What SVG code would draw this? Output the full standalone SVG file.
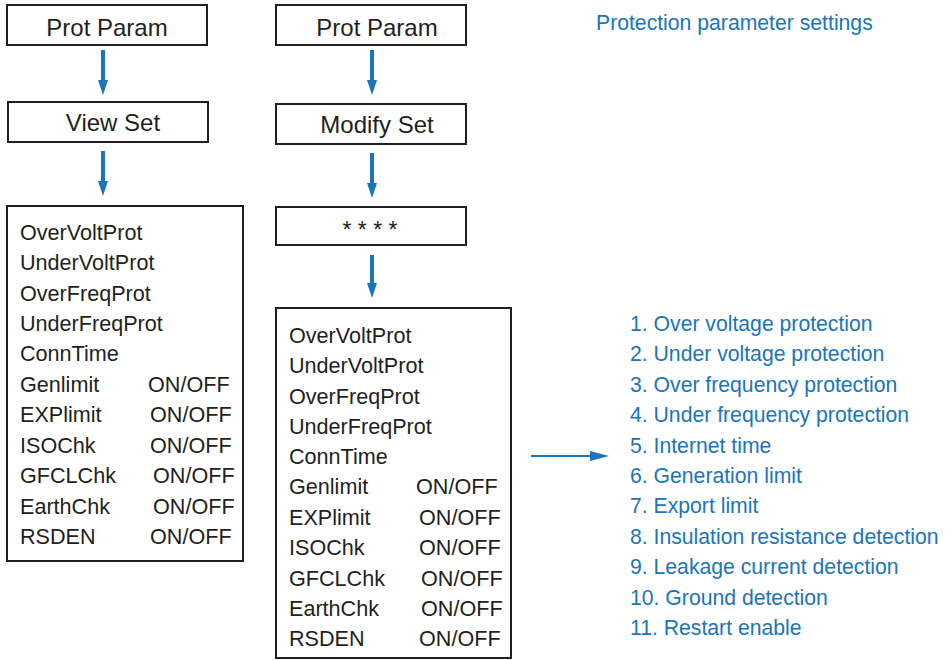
<svg xmlns="http://www.w3.org/2000/svg" width="952" height="660" viewBox="0 0 952 660">
<style>
.box{fill:#fff;stroke:#231f20;stroke-width:2}
.t{font-family:"Liberation Sans",Arial,sans-serif;fill:#231f20}
.h{font-size:24px;text-anchor:middle}
.l{font-size:21.6px}
.b{font-family:"Liberation Sans",Arial,sans-serif;fill:#1b75bb;font-size:21.2px}
.c{stroke:#1b75bb;stroke-width:4;fill:none}
.ch{fill:#1b75bb}
</style>
<rect width="952" height="660" fill="#fff"/>
<g id="connectors">
<line class="c" x1="103" y1="50" x2="103" y2="82"/><polygon class="ch" points="98,80 108,80 103,95"/>
<line class="c" x1="103" y1="151" x2="103" y2="183"/><polygon class="ch" points="98,181 108,181 103,196"/>
<line class="c" x1="372" y1="50" x2="372" y2="82"/><polygon class="ch" points="367,80 377,80 372,95"/>
<line class="c" x1="372" y1="153" x2="372" y2="185"/><polygon class="ch" points="367,183 377,183 372,198"/>
<line class="c" x1="372" y1="255" x2="372" y2="285"/><polygon class="ch" points="367,283 377,283 372,298"/>
<line stroke="#1b75bb" stroke-width="2" x1="531" y1="456" x2="592" y2="456"/><polygon class="ch" points="590,451 590,461 609,456"/>
</g>
<g id="prot-param-1"><rect class="box" x="7" y="5" width="200" height="40"/><text class="t h" x="107" y="36">Prot Param</text></g>
<g id="view-set"><rect class="box" x="8" y="102" width="200" height="40"/><text class="t h" x="113" y="131">View Set</text></g>
<g id="view-list"><rect class="box" x="7" y="206" width="236" height="355"/>
<text class="t l" x="20" y="240">OverVoltProt</text>
<text class="t l" x="20" y="270">UnderVoltProt</text>
<text class="t l" x="20" y="301">OverFreqProt</text>
<text class="t l" x="20" y="331">UnderFreqProt</text>
<text class="t l" x="20" y="361">ConnTime</text>
<text class="t l" x="20" y="392">Genlimit</text><text class="t l" x="148" y="392">ON/OFF</text>
<text class="t l" x="20" y="422">EXPlimit</text><text class="t l" x="150" y="422">ON/OFF</text>
<text class="t l" x="20" y="453">ISOChk</text><text class="t l" x="150" y="453">ON/OFF</text>
<text class="t l" x="20" y="483">GFCLChk</text><text class="t l" x="153" y="483">ON/OFF</text>
<text class="t l" x="20" y="514">EarthChk</text><text class="t l" x="153" y="514">ON/OFF</text>
<text class="t l" x="20" y="544">RSDEN</text><text class="t l" x="150" y="544">ON/OFF</text>
</g>
<g id="prot-param-2"><rect class="box" x="276" y="5" width="190" height="40"/><text class="t h" x="377" y="36">Prot Param</text></g>
<g id="modify-set"><rect class="box" x="276" y="104" width="190" height="40"/><text class="t h" x="377" y="133">Modify Set</text></g>
<g id="password"><rect class="box" x="276" y="207" width="190" height="38"/><text class="t" x="370" y="238" font-size="23" text-anchor="middle">* * * *</text></g>
<g id="modify-list"><rect class="box" x="276" y="308" width="235" height="350"/>
<text class="t l" x="289" y="343">OverVoltProt</text>
<text class="t l" x="289" y="373">UnderVoltProt</text>
<text class="t l" x="289" y="404">OverFreqProt</text>
<text class="t l" x="289" y="434">UnderFreqProt</text>
<text class="t l" x="289" y="464">ConnTime</text>
<text class="t l" x="289" y="494">Genlimit</text><text class="t l" x="416" y="494">ON/OFF</text>
<text class="t l" x="289" y="525">EXPlimit</text><text class="t l" x="419" y="525">ON/OFF</text>
<text class="t l" x="289" y="555">ISOChk</text><text class="t l" x="419" y="555">ON/OFF</text>
<text class="t l" x="289" y="586">GFCLChk</text><text class="t l" x="421" y="586">ON/OFF</text>
<text class="t l" x="289" y="616">EarthChk</text><text class="t l" x="421" y="616">ON/OFF</text>
<text class="t l" x="289" y="646">RSDEN</text><text class="t l" x="419" y="646">ON/OFF</text>
</g>
<g id="title"><text class="b" x="596" y="30">Protection parameter settings</text></g>
<g id="legend">
<text class="b" x="630" y="331">1. Over voltage protection</text>
<text class="b" x="630" y="361">2. Under voltage protection</text>
<text class="b" x="630" y="392">3. Over frequency protection</text>
<text class="b" x="630" y="422">4. Under frequency protection</text>
<text class="b" x="630" y="453">5. Internet time</text>
<text class="b" x="630" y="483">6. Generation limit</text>
<text class="b" x="630" y="513">7. Export limit</text>
<text class="b" x="630" y="544">8. Insulation resistance detection</text>
<text class="b" x="630" y="574">9. Leakage current detection</text>
<text class="b" x="630" y="605">10. Ground detection</text>
<text class="b" x="630" y="635">11. Restart enable</text>
</g>
</svg>
